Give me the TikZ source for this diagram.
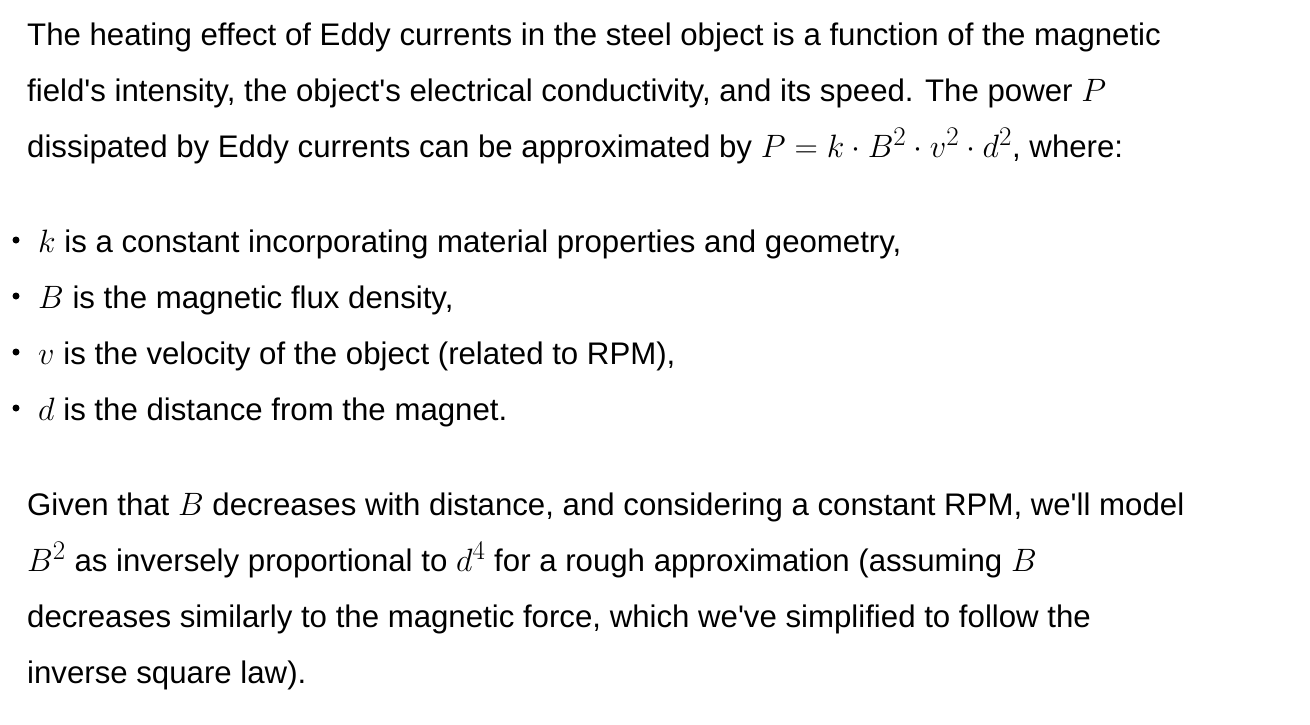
\documentclass[tikz,border=0pt]{standalone}
\usepackage{fontspec}
\usepackage{graphicx}
\setmainfont{Liberation Sans}
\newfontfamily\apf{Liberation Sans}
\newcommand{\mm}[1]{\scalebox{1.3}{$#1$}}
\newcommand{\ap}{{\apf'}}
\begin{document}
\begin{tikzpicture}[x=1pt,y=1pt,txt/.style={anchor=base west,inner sep=0pt,font=\fontsize{31.2}{36}\selectfont},bul/.style={circle,fill=black,inner sep=0pt,minimum size=7pt}]
\useasboundingbox (0,0) rectangle (1310,-724);
\node[txt] (l1) at (27,-45) {The heating effect of Eddy currents in the steel object is a function of the magnetic};
\node[txt] (l2) at (27,-101) {field\ap s intensity, the object\ap s electrical conductivity, and its speed. The power \mm{P}};
\node[txt] (l3) at (27,-157) {dissipated by Eddy currents can be approximated by \mm{P=k\cdot B^2\cdot v^2\cdot d^2}, where:};
\node[bul] (b1) at (16,-240) {};
\node[txt] (t1) at (38,-252) {\mm{k} is a constant incorporating material properties and geometry,};
\node[bul] (b2) at (16,-296) {};
\node[txt] (t2) at (38,-308) {\mm{B} is the magnetic flux density,};
\node[bul] (b3) at (16,-352) {};
\node[txt] (t3) at (38,-364) {\mm{v} is the velocity of the object (related to RPM),};
\node[bul] (b4) at (16,-408) {};
\node[txt] (t4) at (38,-420) {\mm{d} is the distance from the magnet.};
\node[txt] (p1) at (27,-515) {Given that \mm{B} decreases with distance, and considering a constant RPM, we\ap ll model};
\node[txt] (p2) at (27,-571) {\mm{B^2} as inversely proportional to \mm{d^4} for a rough approximation (assuming \mm{B}};
\node[txt] (p3) at (27,-627) {decreases similarly to the magnetic force, which we\ap ve simplified to follow the};
\node[txt] (p4) at (27,-683) {inverse square law).};
\end{tikzpicture}
\end{document}
